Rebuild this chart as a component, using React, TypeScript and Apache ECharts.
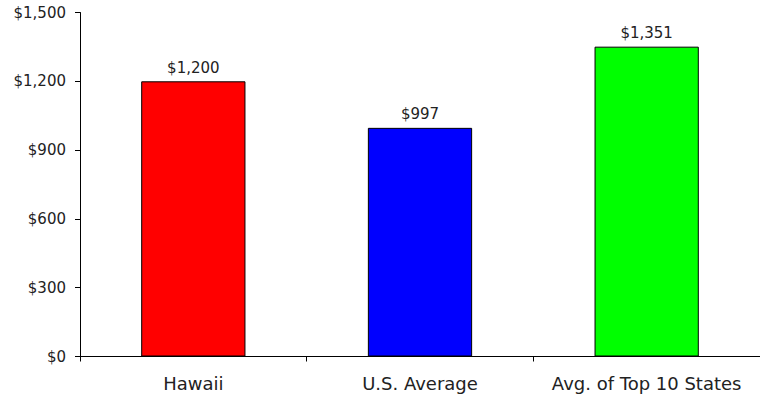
import React, { useEffect, useRef } from "react";
import * as echarts from "echarts";

const categories = ["Hawaii", "U.S. Average", "Avg. of Top 10 States"];
const values = [1200, 997, 1351];
const barColors = ["#FF0000", "#0000FF", "#00FF00"];
const yTicks = [0, 300, 600, 900, 1200, 1500];

const fmt = (v: number) => "$" + v.toLocaleString("en-US");

export default function App() {
  const ref = useRef<HTMLDivElement>(null);
  useEffect(() => {
    if (!ref.current) return;
    const chart = echarts.init(ref.current, null, { renderer: "svg" });
    chart.setOption({
      animation: false,
      backgroundColor: "#ffffff",
      grid: { left: 80, right: 0, top: 12.5, bottom: 41.5, containLabel: false },
      xAxis: {
        type: "category",
        data: categories,
        axisLine: { lineStyle: { color: "#000", width: 1 } },
        axisTick: { show: true, length: 5, lineStyle: { color: "#000" } },
        axisLabel: {
          interval: 0,
          color: "#222",
          fontFamily: "DejaVu Sans",
          fontSize: 18,
          margin: 18,
        },
      },
      yAxis: {
        type: "value",
        min: yTicks[0],
        max: yTicks[yTicks.length - 1],
        interval: 300,
        splitLine: { show: false },
        axisLine: { show: true, lineStyle: { color: "#000", width: 1 } },
        axisTick: { show: true, length: 5, lineStyle: { color: "#000" } },
        axisLabel: {
          color: "#222",
          fontFamily: "DejaVu Sans",
          fontSize: 15,
          margin: 14,
          formatter: (v: number) => fmt(v),
        },
      },
      series: [
        {
          type: "bar",
          barWidth: "46%",
          data: values.map((v, i) => ({
            value: v,
            itemStyle: { color: barColors[i], borderColor: "#000", borderWidth: 1 },
          })),
          label: {
            show: true,
            position: "top",
            distance: 6,
            color: "#222",
            fontFamily: "DejaVu Sans",
            fontSize: 15,
            formatter: (p: any) => fmt(p.value),
          },
        },
      ],
    });
    return () => chart.dispose();
  }, []);
  return (
    <div
      ref={ref}
      style={{ position: "absolute", left: 0, top: 0, width: 760, height: 398 }}
    />
  );
}
